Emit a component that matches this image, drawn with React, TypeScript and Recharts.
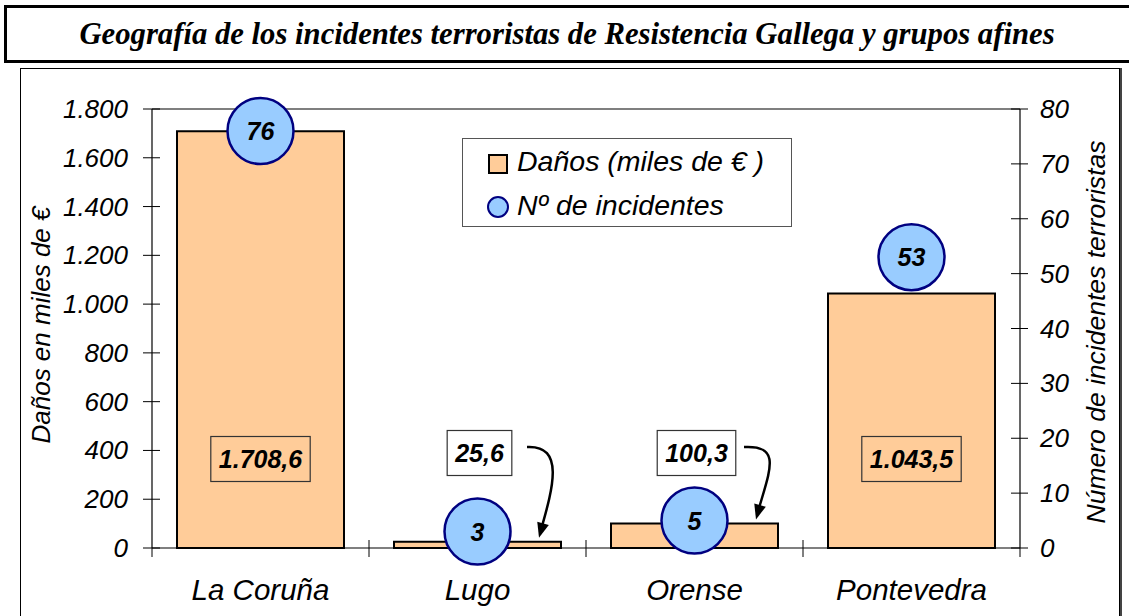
import {
  ComposedChart,
  Bar,
  Line,
  XAxis,
  YAxis,
  Legend,
  LabelList,
  ReferenceLine,
} from "recharts";

const categories = ["La Coruña", "Lugo", "Orense", "Pontevedra"];
const danos = [1708.6, 25.6, 100.3, 1043.5];
const incidentes = [76, 3, 5, 53];
const danosTicks = [0, 200, 400, 600, 800, 1000, 1200, 1400, 1600, 1800];
const incidentesTicks = [0, 10, 20, 30, 40, 50, 60, 70, 80];

const data = categories.map((c, i) => ({
  name: c,
  danos: danos[i],
  incidentes: incidentes[i],
}));

const W = 1129;
const H = 616;
const PLOT_LEFT = 152;
const PLOT_RIGHT = 1020;
const PLOT_BOTTOM = 548;
const BAND = (PLOT_RIGHT - PLOT_LEFT) / categories.length;
const SANS = '"Liberation Sans", Arial, sans-serif';
const SERIF = '"Liberation Serif", "Times New Roman", serif';

// 1800 -> "1.800", 1708.6 -> "1.708,6"
const fmt = (v: number, dec = 0) => {
  const [i, d] = v.toFixed(dec).split(".");
  const int = i.replace(/\B(?=(\d{3})+(?!\d))/g, ".");
  return d ? `${int},${d}` : int;
};

const textW = (s: string, size: number) =>
  s.split("").reduce((w, ch) => w + (/[0-9]/.test(ch) ? 0.556 : 0.278), 0) * size;

const LeftTick = (p: any) => (
  <g>
    <line x1={PLOT_LEFT - 9} x2={PLOT_LEFT + 8} y1={p.y} y2={p.y} stroke="#000" />
    {p.payload.value === 0 && (
      <line x1={PLOT_LEFT} x2={PLOT_LEFT} y1={PLOT_BOTTOM} y2={PLOT_BOTTOM + 9} stroke="#000" />
    )}
    <text
      x={PLOT_LEFT - 24}
      y={p.y}
      dy={9}
      textAnchor="end"
      fontSize={26}
      fontStyle="italic"
      fontFamily={SANS}
      fill="#000"
    >
      {fmt(p.payload.value)}
    </text>
  </g>
);

const RightTick = (p: any) => (
  <g>
    <line x1={PLOT_RIGHT - 9} x2={PLOT_RIGHT + 8} y1={p.y} y2={p.y} stroke="#000" />
    {p.payload.value === 0 && (
      <line x1={PLOT_RIGHT} x2={PLOT_RIGHT} y1={PLOT_BOTTOM} y2={PLOT_BOTTOM + 9} stroke="#000" />
    )}
    <text
      x={PLOT_RIGHT + 20}
      y={p.y}
      dy={9}
      textAnchor="start"
      fontSize={26}
      fontStyle="italic"
      fontFamily={SANS}
      fill="#000"
    >
      {p.payload.value}
    </text>
  </g>
);

const CatTick = (p: any) => {
  const sep = p.payload.coordinate + BAND / 2;
  return (
    <g>
      {p.index < categories.length - 1 && (
        <line x1={sep} x2={sep} y1={PLOT_BOTTOM - 8} y2={PLOT_BOTTOM + 9} stroke="#000" />
      )}
      <text
        x={p.payload.coordinate}
        y={PLOT_BOTTOM + 52}
        textAnchor="middle"
        fontSize={29.5}
        fontStyle="italic"
        fontFamily={SANS}
        fill="#000"
      >
        {p.payload.value}
      </text>
    </g>
  );
};

const arrowHead = (tx: number, ty: number, fx: number, fy: number) => {
  const dx = tx - fx;
  const dy = ty - fy;
  const l = Math.hypot(dx, dy);
  const ux = dx / l;
  const uy = dy / l;
  const bx = tx - ux * 15;
  const by = ty - uy * 15;
  return `M${tx},${ty} L${bx - uy * 6},${by + ux * 6} L${bx + uy * 6},${by - ux * 6} Z`;
};

const ValueLabel = (p: any) => {
  const { x, y, width, height, value } = p;
  const txt = fmt(Number(value), 1);
  const bw = textW(txt, 25) + 16;
  const bh = 45;
  const bottom = y + height;
  const small = height < 60;
  const cx = x + width / 2 + (small ? 2 : 0);
  const cy = small ? bottom - 95 : bottom - 89;
  let arrow = null;
  if (small) {
    const tx = x + width - 22;
    const ty = y - 4;
    const sx = tx - 12;
    const sy = cy - 6;
    const c2x = tx + 14;
    const c2y = ty - 50;
    arrow = (
      <g>
        <path
          d={`M${sx},${sy} C${sx + 38},${sy - 2} ${c2x},${c2y} ${tx + 2},${ty - 8}`}
          fill="none"
          stroke="#000"
          strokeWidth={2.5}
        />
        <path d={arrowHead(tx, ty, c2x, c2y)} fill="#000" />
      </g>
    );
  }
  return (
    <g>
      <rect
        x={cx - bw / 2}
        y={cy - bh / 2}
        width={bw}
        height={bh}
        fill={small ? "#fff" : "#FFCC99"}
        stroke="#333"
        strokeWidth={1.2}
      />
      <text
        x={cx}
        y={cy}
        dy={9}
        textAnchor="middle"
        fontSize={25}
        fontWeight="bold"
        fontStyle="italic"
        fontFamily={SANS}
        fill="#000"
      >
        {txt}
      </text>
      {arrow}
    </g>
  );
};

const Bubble = (p: any) => (
  <g key={`b-${p.index}`}>
    <circle cx={p.cx} cy={p.cy} r={33} fill="#99CCFF" stroke="#000080" strokeWidth={2.5} />
    <text
      x={p.cx}
      y={p.cy}
      dy={9}
      textAnchor="middle"
      fontSize={25}
      fontWeight="bold"
      fontStyle="italic"
      fontFamily={SANS}
      fill="#000"
    >
      {p.payload.incidentes}
    </text>
  </g>
);

const LegendBox = (p: any) => (
  <div
    style={{
      width: 330,
      height: 89,
      border: "1px solid #555",
      background: "#fff",
      boxSizing: "border-box",
      fontFamily: SANS,
      fontStyle: "italic",
      fontSize: 28.5,
      color: "#000",
      paddingTop: 2,
    }}
  >
    {(p.payload || []).map((e: any, i: number) => (
      <div key={i} style={{ display: "flex", alignItems: "center", height: 40, marginTop: i ? 4 : 0 }}>
        <svg width={54} height={40} style={{ flex: "none" }}>
          {e.type === "circle" ? (
            <circle cx={35} cy={22} r={10} fill="#99CCFF" stroke="#000080" strokeWidth={2} />
          ) : (
            <rect x={26} y={14} width={18} height={18} fill="#FFCC99" stroke="#000" strokeWidth={2} />
          )}
        </svg>
        <span style={{ whiteSpace: "nowrap" }}>{e.value}</span>
      </div>
    ))}
  </div>
);

const LeftTitle = () => (
  <text
    transform="translate(50,325) rotate(-90)"
    textAnchor="middle"
    fontSize={26}
    fontStyle="italic"
    fontFamily={SANS}
    fill="#000"
  >
    Daños en miles de €
  </text>
);

const RightTitle = () => (
  <text
    transform="translate(1105,332) rotate(-90)"
    textAnchor="middle"
    fontSize={26.5}
    fontStyle="italic"
    fontFamily={SANS}
    fill="#000"
  >
    Número de incidentes terroristas
  </text>
);

export default function App() {
  return (
    <div
      style={{
        position: "absolute",
        left: 0,
        top: 0,
        width: W,
        height: H,
        overflow: "hidden",
        background: "#fff",
      }}
    >
      <div
        style={{
          position: "absolute",
          left: 4,
          top: 5,
          width: 1120,
          paddingRight: 20,
          height: 52,
          border: "3px solid #000",
          display: "flex",
          alignItems: "center",
          justifyContent: "center",
          fontFamily: SERIF,
          fontWeight: "bold",
          fontStyle: "italic",
          fontSize: 30.7,
          color: "#000",
        }}
      >
        Geografía de los incidentes terroristas de Resistencia Gallega y grupos afines
      </div>
      <div
        style={{
          position: "absolute",
          left: 20,
          top: 68,
          width: 1098,
          height: 600,
          border: "1px solid #000",
          boxShadow: "2px 0 0 #444",
        }}
      />
      <div style={{ position: "absolute", left: 0, top: 0 }}>
        <ComposedChart
          width={W}
          height={H}
          data={data}
          margin={{ top: 109, right: 29, bottom: 18, left: 42 }}
        >
          <XAxis
            dataKey="name"
            xAxisId={0}
            height={50}
            interval={0}
            tickLine={false}
            axisLine={{ stroke: "#000", strokeWidth: 1.2 }}
            tick={<CatTick />}
          />
          <YAxis
            yAxisId="left"
            orientation="left"
            width={110}
            domain={[0, 1800]}
            ticks={danosTicks}
            interval={0}
            tickLine={false}
            axisLine={{ stroke: "#000", strokeWidth: 1.2 }}
            tick={<LeftTick />}
            label={<LeftTitle />}
          />
          <YAxis
            yAxisId="right"
            orientation="right"
            width={80}
            domain={[0, 80]}
            ticks={incidentesTicks}
            interval={0}
            tickLine={false}
            axisLine={{ stroke: "#000", strokeWidth: 1.2 }}
            tick={<RightTick />}
            label={<RightTitle />}
          />
          <ReferenceLine yAxisId="left" y={1800} stroke="#000" strokeWidth={1.2} />
          <Bar
            yAxisId="left"
            dataKey="danos"
            name="Daños (miles de € )"
            legendType="square"
            fill="#FFCC99"
            stroke="#000"
            strokeWidth={2}
            barSize={167}
            isAnimationActive={false}
          >
            <LabelList dataKey="danos" content={<ValueLabel />} />
          </Bar>
          <Line
            yAxisId="right"
            dataKey="incidentes"
            name="Nº de incidentes"
            legendType="circle"
            stroke="none"
            dot={Bubble}
            activeDot={false}
            isAnimationActive={false}
          />
          <Legend
            layout="vertical"
            align="center"
            verticalAlign="middle"
            content={<LegendBox />}
            wrapperStyle={{ position: "absolute", left: 462, top: 138, width: 330, height: 89 }}
          />
        </ComposedChart>
      </div>
    </div>
  );
}
